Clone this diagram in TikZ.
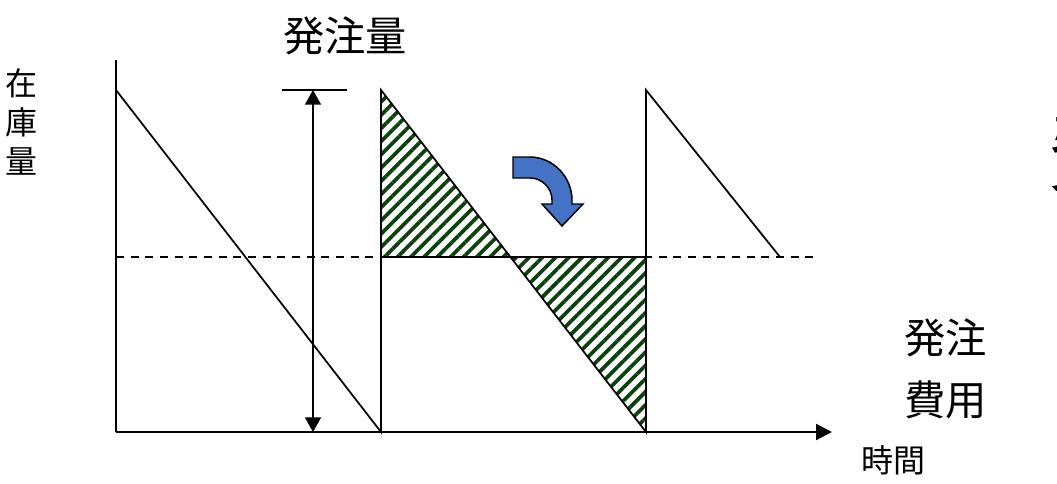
\documentclass[tikz,border=0pt]{standalone}
\usepackage{fontspec}
\setmainfont{Noto Sans CJK JP}
\usetikzlibrary{arrows.meta,patterns.meta}
\definecolor{hatchgreen}{RGB}{12,64,12}
\definecolor{turnblue}{RGB}{68,114,196}

\begin{document}
\begin{tikzpicture}[x=0.75pt,y=-0.75pt,
  axis/.style={draw, line width=1.6pt, -{Triangle[length=12pt,width=12pt]}},
  stock/.style={draw, line width=1.3pt},
  hatch/.style={pattern={Lines[angle=45,distance=7pt,line width=2.8pt]}, pattern color=hatchgreen},
  big/.style={inner sep=0pt, font=\fontsize{31}{47}\selectfont},
  small/.style={inner sep=0pt, font=\fontsize{24}{29}\selectfont}
]
\useasboundingbox (0,0) rectangle (1057,483);

% axes
\coordinate (origin) at (116,432);
\coordinate (ytop) at (116,60);
\coordinate (xend) at (832,432);
\draw [line width=1.6pt] (origin) -- (ytop);
\path [axis] (origin) -- (xend);

% sawtooth
\coordinate (peak1) at (116,90);
\coordinate (low1) at (381,432);
\coordinate (peak2) at (381,90);
\coordinate (low2) at (646,432);
\coordinate (peak3) at (646,90);
\coordinate (cut) at (510,257);
\coordinate (safe2) at (381,257);
\coordinate (safe3) at (646,257);

\fill [hatch] (peak2) -- (cut) -- (safe2) -- cycle;
\fill [hatch] (cut) -- (safe3) -- (low2) -- cycle;

\draw [line width=1.3pt, dash pattern=on 6pt off 5pt] (116,257) -- (816,257);
\path [stock] (peak1) -- (low1) -- (peak2) -- (low2) -- (peak3) -- (780,257);
\path [stock] (safe2) -- (safe3);

% order quantity
\coordinate (qtop) at (313,90);
\coordinate (qbot) at (313,432);
\draw [line width=1.3pt] (282,90) -- (347,90);
\draw [line width=1.3pt, {Triangle[length=11pt,width=12pt]}-{Triangle[length=11pt,width=12pt]}] (qtop) -- (qbot);

% shift arrow
\filldraw [fill=turnblue, draw=black, line width=1.1pt]
  (513,157) -- (530,157) .. controls (553,157) and (572,177) .. (572,200)
  -- (572,204) -- (583,204) -- (562,226) -- (542,204) -- (552,204) -- (552,200)
  .. controls (552,188) and (542,178) .. (530,178) -- (513,178) -- cycle;

% labels
\node [big] (qty) at (345,36) {発注量};
\node [small, align=center] (stockaxis) at (22,122) {在\\庫\\量};
\node [small] (timeaxis) at (893,460) {時間};
\node [big, align=left, anchor=north west] (ordercost) at (904,318) {発注\\費用};
\node [inner sep=0pt, anchor=west, font=\fontsize{64}{70}\selectfont] (cutoff) at (1047,152) {費};
\end{tikzpicture}
\end{document}
